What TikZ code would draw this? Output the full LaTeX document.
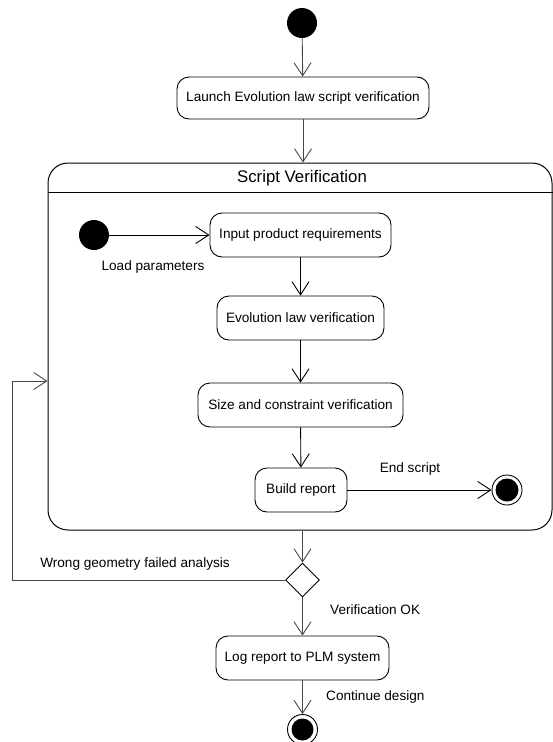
\documentclass[tikz,border=0pt]{standalone}
\usepackage{fontspec}
\setmainfont{Liberation Sans}
\usetikzlibrary{arrows.meta,shapes.geometric}

\tikzset{
  every node/.style={font=\fontsize{13.6}{16}\selectfont},
  action/.style={draw=black, line width=0.9pt, rounded corners=12pt,
                 minimum height=44pt, inner sep=0pt, fill=white},
  initnode/.style={circle, fill=black, minimum size=30pt, inner sep=0pt},
  finalring/.style={circle, draw=black, line width=0.9pt, fill=white,
                    minimum size=30pt, inner sep=0pt},
  flow/.style={line width=0.9pt, draw=black!72,
               -{Straight Barb[length=13pt,width=17pt,line width=0.9pt]}},
  innerflow/.style={flow, draw=black},
  lbl/.style={inner sep=0pt}
}

\begin{document}
\begin{tikzpicture}[x=1pt,y=-1pt]
  \useasboundingbox (0,0) rectangle (553,742);

  % outer flow: start and launch
  \node[initnode] (start) at (302,23) {};
  \node[action, minimum width=252pt, minimum height=42pt] (launch) at (303,98)
    {Launch Evolution law script verification};

  % composite state
  \node[draw=black, line width=1pt, rounded corners=20pt, minimum width=504pt,
        minimum height=367pt, inner sep=0pt] (cont) at (300,346.5) {};
  \draw[line width=1pt] (cont.west |- 0,192) -- (cont.east |- 0,192);
  \node[font=\fontsize{16.8}{20}\selectfont] (title) at (302,178) {Script Verification};

  % inner activities
  \node[initnode] (init2) at (94,235) {};
  \node[action, minimum width=181pt] (input) at (300.5,235) {Input product requirements};
  \node[action, minimum width=167pt] (evol) at (300.5,318) {Evolution law verification};
  \node[action, minimum width=205pt] (size) at (300.5,405) {Size and constraint verification};
  \node[action, minimum width=92pt] (build) at (301,490) {Build report};
  \node[finalring] (end2) at (507,490) {};
  \fill (end2.center) circle (11.5);

  \node[lbl] (loadlbl) at (153,267) {Load parameters};
  \node[lbl] (endlbl) at (410,469) {End script};

  % decision and after
  \node[diamond, draw=black, line width=0.9pt, minimum width=34pt, minimum height=34pt,
        inner sep=0pt] (decision) at (302.5,580) {};
  \node[action, minimum width=173pt] (log) at (302.5,658) {Log report to PLM system};
  \node[finalring] (final) at (302.5,729.5) {};
  \fill (final.center) circle (11);

  \node[lbl] (wronglbl) at (135,564) {Wrong geometry failed analysis};
  \node[lbl, anchor=west] (oklbl) at (330,610) {Verification OK};
  \node[lbl, anchor=west] (contlbl) at (326,697) {Continue design};

  % connectors
  \draw[flow] (start) -- (launch);
  \draw[flow] (launch.south) -- (launch.south |- cont.north);
  \draw[innerflow] (init2) -- (input);
  \draw[innerflow] (input) -- (evol);
  \draw[innerflow] (evol) -- (size);
  \draw[innerflow] (size) -- (build);
  \draw[innerflow] (build) -- (end2);
  \draw[flow] (decision.north |- cont.south) -- (decision);
  \coordinate (loopcorner) at (12,381);
  \draw[flow] (decision.west) -| (loopcorner) -- (cont.west |- loopcorner);
  \draw[flow] (decision) -- (log);
  \draw[flow] (log) -- (final);
\end{tikzpicture}
\end{document}
